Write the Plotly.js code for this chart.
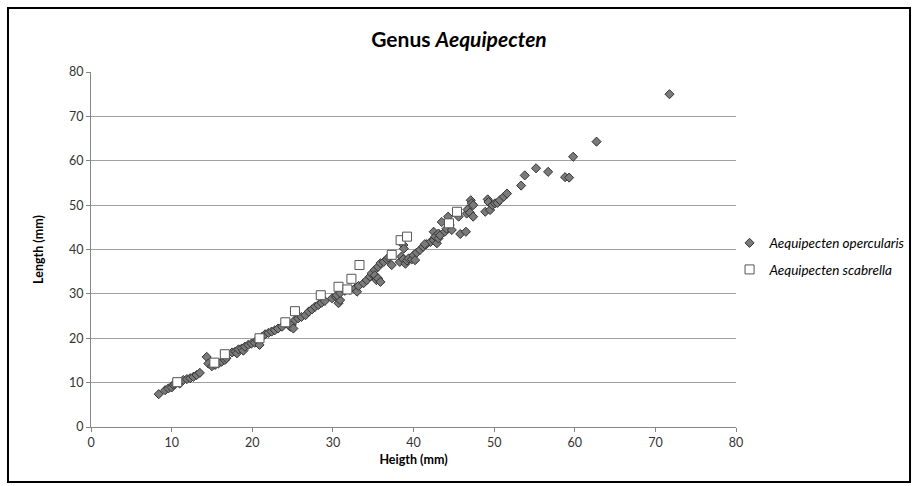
<!DOCTYPE html>
<html>
<head>
<meta charset="utf-8">
<script src="https://cdn.plot.ly/plotly-3.0.1.min.js"></script>
<style>html,body{margin:0;padding:0;background:#fff;}#chart{width:918px;height:486px;}</style>
</head>
<body>
<div id="chart"></div>
<script>
// Aequipecten opercularis: height (mm), length (mm)
var operHeight = [8.4,9.2,9.6,10.0,10.2,10.4,11.0,11.45,11.9,12.3,12.7,13.1,13.5,14.35,14.55,15.0,15.4,15.8,16.2,16.6,16.8,17.5,17.9,18.1,18.3,18.7,18.9,19.1,19.5,19.9,20.3,20.6,20.9,21.2,21.6,22.0,22.4,22.8,23.2,23.7,24.1,24.7,24.9,25.1,25.3,25.7,26.1,26.6,27.0,27.4,27.8,28.2,28.6,29.0,29.9,30.4,30.7,30.9,30.5,30.9,31.5,32.1,32.75,33.0,33.2,33.8,34.2,34.6,34.8,35.2,35.2,35.4,35.6,35.9,35.6,35.9,36.3,36.7,36.9,37.3,38.3,38.5,38.75,38.75,38.8,39.0,39.2,39.4,39.8,40.0,40.2,40.4,40.8,41.2,41.6,42.1,41.4,42.5,42.5,42.7,42.9,43.1,43.1,43.3,43.5,43.9,44.1,44.3,44.5,44.75,45.6,45.8,46.5,46.6,46.7,47.0,47.1,47.2,47.4,47.4,48.9,49.2,49.3,49.5,49.8,50.1,50.4,50.7,51.2,51.6,53.35,53.8,55.2,56.7,58.8,59.3,59.8,62.7,71.75];
var operLength = [7.4,8.3,8.7,8.9,9.5,9.7,9.8,10.6,10.8,11.0,11.3,11.7,12.2,15.8,14.3,13.7,14.0,14.3,14.7,15.1,15.5,16.8,17.0,16.6,17.5,17.7,17.2,18.1,18.5,18.8,19.0,19.6,18.5,20.3,20.9,21.2,21.5,21.8,22.2,22.6,23.4,22.6,23.0,22.2,24.1,24.5,24.8,25.2,26.0,26.5,27.1,27.5,28.0,28.4,29.0,29.3,27.9,28.6,29.7,30.2,30.7,30.9,31.2,30.5,31.8,32.4,33.1,33.9,34.6,35.4,34.2,33.1,33.5,32.7,36.1,36.9,37.2,37.8,38.2,36.5,37.2,38.4,37.8,41.0,40.2,36.8,37.5,38.0,37.8,38.7,37.6,39.3,39.9,40.6,41.2,41.7,41.2,44.0,42.1,42.9,41.4,42.5,43.6,43.2,46.2,44.0,44.7,47.4,45.5,44.4,47.4,43.5,44.0,48.1,49.0,48.3,51.1,50.4,50.0,47.4,48.5,51.3,50.7,48.9,50.0,50.4,50.5,51.1,51.9,52.6,54.4,56.7,58.3,57.5,56.3,56.2,60.9,64.3,75.0];
// Aequipecten scabrella: height (mm), length (mm)
var scabHeight = [10.7,15.3,16.6,20.9,24.1,25.3,28.5,30.7,31.8,32.3,33.3,37.3,38.4,39.2,44.4,45.4];
var scabLength = [10.1,14.5,16.4,20.0,23.6,26.1,29.7,31.6,31.0,33.4,36.5,38.8,42.1,42.9,45.9,48.5];

var seriesNames = ['<i>Aequipecten opercularis</i>', '<i>Aequipecten scabrella</i>'];
var tickVals = [0,10,20,30,40,50,60,70,80];
var titleText = 'Genus <i>Aequipecten</i>';
var xTitle = 'Heigth (mm)';
var yTitle = 'Length (mm)';

var FONT = 'Lato, "Open Sans", sans-serif';

var traces = [
  {
    x: operHeight, y: operLength, type: 'scatter', mode: 'markers',
    name: seriesNames[0], legendgroup: 'a',
    marker: {symbol: 'diamond', size: 7, color: '#7a7a7a', line: {color: '#333333', width: 1}},
    hoverinfo: 'x+y'
  },
  {
    x: scabHeight, y: scabLength, type: 'scatter', mode: 'markers',
    name: seriesNames[1], legendgroup: 'b',
    marker: {symbol: 'square', size: 9, color: '#ffffff', line: {color: '#555555', width: 1}},
    hoverinfo: 'x+y'
  }
];

var layout = {
  width: 918, height: 486,
  margin: {l: 91, r: 182, t: 72, b: 59, autoexpand: false},
  paper_bgcolor: '#ffffff', plot_bgcolor: '#ffffff',
  font: {family: FONT, size: 12, color: '#333333'},
  title: {text: titleText, font: {family: FONT, size: 21, color: '#000000', weight: 'bold'},
          x: 0.5, xref: 'container', xanchor: 'center', y: 0.918, yref: 'container', yanchor: 'middle'},
  showlegend: true,
  legend: {x: 0.99, xanchor: 'left', y: 0.48, yanchor: 'middle', traceorder: 'grouped', tracegroupgap: 6,
           itemwidth: 30, font: {family: FONT, size: 13.5, color: '#000000'}, bgcolor: 'rgba(0,0,0,0)'},
  xaxis: {
    range: [0, 80], tickvals: tickVals, ticktext: tickVals.map(String),
    showgrid: false, zeroline: false, showline: true, linecolor: '#868686', linewidth: 1,
    ticks: 'outside', ticklen: 4, tickcolor: '#868686',
    tickfont: {family: FONT, size: 12.5, color: '#333333'},
    title: {text: xTitle, font: {family: FONT, size: 12.5, color: '#000000', weight: 'bold'}, standoff: 6}
  },
  yaxis: {
    range: [0, 80], tickvals: tickVals, ticktext: tickVals.map(String),
    showgrid: true, gridcolor: '#a0a0a0', gridwidth: 1, zeroline: false,
    showline: true, linecolor: '#868686', linewidth: 1,
    ticks: 'outside', ticklen: 4, tickcolor: '#868686',
    tickfont: {family: FONT, size: 12.5, color: '#333333'},
    title: {text: yTitle, font: {family: FONT, size: 12.5, color: '#000000', weight: 'bold'}, standoff: 22}
  },
  shapes: [
    {type: 'rect', xref: 'paper', yref: 'paper', x0: -0.1287, x1: 1.2698, y0: -0.1549, y1: 1.180,
     line: {color: '#000000', width: 2}, fillcolor: 'rgba(0,0,0,0)', layer: 'below'}
  ]
};

Plotly.newPlot('chart', traces, layout, {displayModeBar: false, staticPlot: true});
</script>
</body>
</html>
